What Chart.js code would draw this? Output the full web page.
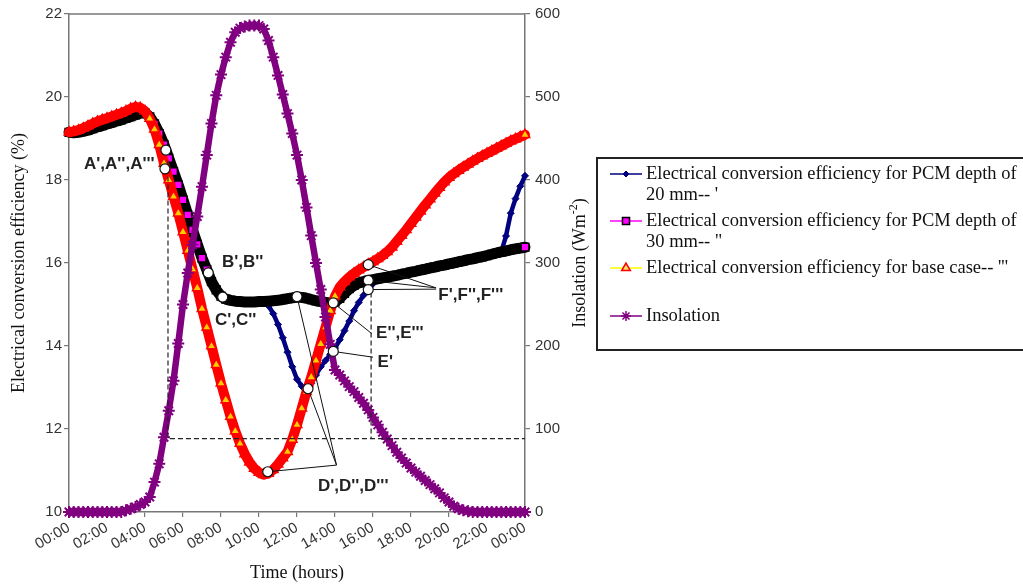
<!DOCTYPE html>
<html>
<head>
<meta charset="utf-8">
<script src="https://cdn.jsdelivr.net/npm/chart.js@4/dist/chart.umd.min.js"></script>
<style>
html,body{margin:0;padding:0;background:#fff;}
#wrap{position:relative;width:1023px;height:586px;}
</style>
</head>
<body>
<div id="wrap"><canvas id="c" width="1023" height="586"></canvas></div>
<script>
// ---------- DATA (15-minute steps, 00:00 .. 24:00) ----------
const hours = Array.from({length: 97}, (_, i) => i * 0.25);
const xTickLabels = ['00:00','02:00','04:00','06:00','08:00','10:00','12:00','14:00','16:00','18:00','20:00','22:00','00:00'];

const seriesLabels = [
  "Electrical conversion efficiency for PCM depth of 20 mm-- '",
  'Electrical conversion efficiency for PCM depth of 30 mm-- "',
  "Electrical conversion efficiency for base case-- '''",
  "Insolation"
];

// PCM depth 20 mm (%)
const eff20mm = [
  19.15,19.14,19.15,19.17,19.2,19.24,19.28,19.31,
  19.35,19.38,19.42,19.45,19.49,19.53,19.57,19.61,
  19.62,19.52,19.35,19.12,18.85,18.52,18.2,17.88,
  17.52,17.16,16.8,16.45,16.12,15.84,15.55,15.35,
  15.2,15.13,15.1,15.08,15.07,15.06,15.06,15.06,
  15.07,15.07,14.97,14.78,14.52,14.2,13.85,13.5,
  13.2,13.03,12.98,13.1,13.3,13.5,13.65,13.8,
  13.95,14.15,14.37,14.6,14.85,15.05,15.22,15.37,
  15.5,15.6,15.64,15.66,15.68,15.7,15.73,15.75,
  15.78,15.8,15.83,15.85,15.88,15.9,15.93,15.95,
  15.98,16.0,16.03,16.05,16.08,16.1,16.13,16.15,
  16.18,16.21,16.24,16.27,16.65,17.2,17.55,17.85,
  18.1
];

// PCM depth 30 mm (%)
const eff30mm = [
  19.15,19.14,19.15,19.17,19.2,19.24,19.28,19.31,
  19.35,19.38,19.42,19.45,19.49,19.53,19.57,19.61,
  19.62,19.52,19.35,19.12,18.85,18.52,18.2,17.88,
  17.52,17.16,16.8,16.45,16.12,15.84,15.55,15.35,
  15.2,15.13,15.1,15.08,15.07,15.06,15.06,15.06,
  15.07,15.07,15.08,15.09,15.1,15.12,15.14,15.16,
  15.18,15.17,15.15,15.12,15.09,15.07,15.05,15.03,
  15.06,15.15,15.27,15.38,15.46,15.52,15.55,15.58,
  15.6,15.62,15.64,15.66,15.68,15.7,15.73,15.75,
  15.78,15.8,15.83,15.85,15.88,15.9,15.93,15.95,
  15.98,16.0,16.03,16.05,16.08,16.1,16.13,16.15,
  16.18,16.21,16.24,16.27,16.29,16.32,16.34,16.36,
  16.38
];

// Base case (%)
const effBase = [
  19.15,19.17,19.2,19.25,19.3,19.36,19.41,19.45,
  19.49,19.53,19.57,19.61,19.66,19.72,19.76,19.74,
  19.66,19.48,19.22,18.85,18.4,18.0,17.6,17.2,
  16.75,16.3,15.85,15.4,14.9,14.45,14.0,13.55,
  13.1,12.7,12.3,11.95,11.65,11.4,11.2,11.05,
  10.95,10.9,10.93,11.02,11.15,11.3,11.45,11.75,
  12.1,12.5,12.9,13.25,13.65,14.05,14.45,14.85,
  15.2,15.42,15.55,15.66,15.75,15.83,15.9,15.97,
  16.03,16.1,16.18,16.27,16.38,16.52,16.66,16.8,
  16.95,17.1,17.25,17.4,17.54,17.68,17.82,17.95,
  18.06,18.15,18.23,18.31,18.38,18.45,18.52,18.58,
  18.64,18.7,18.76,18.82,18.88,18.94,18.99,19.04,
  19.09
];

// Insolation (W m-2)
const insolation = [
  0,0,0,0,0,0,0,0,
  0,0,0,0,2,4,6,9,
  12,18,36,58,90,122,158,203,
  250,288,322,356,392,430,468,502,
  527,548,566,578,583,585,586,586,
  586,582,568,548,526,503,480,456,
  430,400,367,333,300,268,235,202,
  171,165,158,151,145,138,131,123,
  114,105,96,88,80,72,65,59,
  53,48,43,38,33,28,23,17,
  12,7,4,2,1,0,0,0,
  0,0,0,0,0,0,0,0,
  0
];

// ---------- ANNOTATIONS (in data units: hours, efficiency %) ----------
const markerCircles = [
  [5.1,18.72],[5.05,18.27],[7.33,15.76],[8.09,15.18],
  [12.0,15.19],[12.58,12.97],[10.46,10.97],
  [13.91,15.04],[13.91,13.87],
  [15.75,15.96],[15.75,15.58],[15.75,15.36]
];
const leaderLines = [
  [[12.0,15.19],[14.08,11.13]],
  [[12.58,12.97],[14.08,11.13]],
  [[10.46,10.97],[14.08,11.13]],
  [[13.91,15.04],[15.93,14.3]],
  [[13.91,13.87],[16.0,13.73]],
  [[15.75,15.96],[19.32,15.4]],
  [[15.75,15.58],[19.32,15.4]],
  [[15.75,15.36],[19.32,15.37]]
];
const dashedGuides = [
  [[5.21,18.47],[5.21,11.77],[24,11.77]],
  [[15.9,15.29],[15.9,11.77]]
];
const pointLabels = [
  {text:"A',A'',A'''", t:0.79, v:18.39},
  {text:"B',B''", t:8.05, v:16.01},
  {text:"C',C''", t:7.68, v:14.62},
  {text:"D',D'',D'''", t:13.1, v:10.63},
  {text:"E'',E'''", t:16.16, v:14.3},
  {text:"E'", t:16.24, v:13.61},
  {text:"F',F'',F'''", t:19.44, v:15.22}
];

// ---------- helpers ----------
const pts = arr => hours.map((h, i) => ({x: h, y: arr[i]}));
// dense markers merge into their border colour; sparse ones show their fill
function denseFill(fill, edge) {
  return ctx => {
    if (ctx.type !== 'data') return fill;
    const chart = ctx.chart, ds = chart.data.datasets[ctx.datasetIndex];
    const i = ctx.dataIndex, d = ds.data;
    if (i >= d.length - 1) return fill;
    const xs = chart.scales.x, ys = chart.scales[ds.yAxisID || 'y'];
    if (!xs || !ys) return fill;
    const dx = xs.getPixelForValue(d[i+1].x) - xs.getPixelForValue(d[i].x);
    const dy = ys.getPixelForValue(d[i+1].y) - ys.getPixelForValue(d[i].y);
    return Math.hypot(dx, dy) >= 10 ? fill : edge;
  };
}

const SERIF = '"Liberation Serif","Times New Roman",serif';
const SANS = '"Liberation Sans",Arial,sans-serif';

const legendStyle = {
  box: {x: 597, y: 158, w: 440, h: 192},
  rows: [174, 221, 268, 316],
  lineColors: ['#000080', '#ff00ff', '#ffff00', '#800080'],
  markers: [
    {pointStyle:'rectRot', radius:3, fill:'#000080', stroke:'#000080', bw:1},
    {pointStyle:'rect', radius:5, fill:'#ff00ff', stroke:'#000000', bw:1.5},
    {pointStyle:'triangle', radius:5, fill:'#ffe066', stroke:'#ff0000', bw:1.5},
    {pointStyle:'star', radius:5, fill:'#800080', stroke:'#800080', bw:1.5}
  ]
};

function wrapText(ctx, text, maxW) {
  const words = text.split(' ');
  const lines = [];
  let cur = '';
  words.forEach(w => {
    const test = cur ? cur + ' ' + w : w;
    if (ctx.measureText(test).width > maxW && cur) { lines.push(cur); cur = w; }
    else cur = test;
  });
  if (cur) lines.push(cur);
  return lines;
}

const annotationPlugin = {
  id: 'annotations',
  afterDatasetsDraw(chart) {
    const {ctx} = chart;
    const xs = chart.scales.x, ys = chart.scales.y;
    const P = p => [xs.getPixelForValue(p[0]), ys.getPixelForValue(p[1])];
    ctx.save();
    ctx.setLineDash([5, 3]);
    ctx.lineWidth = 1.2;
    ctx.strokeStyle = '#222';
    dashedGuides.forEach(path => {
      ctx.beginPath();
      path.forEach((p, k) => { const [px, py] = P(p); k ? ctx.lineTo(px, py) : ctx.moveTo(px, py); });
      ctx.stroke();
    });
    ctx.setLineDash([]);
    ctx.lineWidth = 1;
    ctx.strokeStyle = '#111';
    leaderLines.forEach(seg => {
      const a = P(seg[0]), b = P(seg[1]);
      ctx.beginPath(); ctx.moveTo(a[0], a[1]); ctx.lineTo(b[0], b[1]); ctx.stroke();
    });
    markerCircles.forEach(c => {
      const [px, py] = P(c);
      ctx.beginPath(); ctx.arc(px, py, 5, 0, Math.PI * 2);
      ctx.fillStyle = '#fff'; ctx.fill();
      ctx.lineWidth = 1.2; ctx.strokeStyle = '#111'; ctx.stroke();
    });
    ctx.font = 'bold 17px ' + SANS;
    ctx.fillStyle = '#222';
    ctx.textAlign = 'left';
    ctx.textBaseline = 'middle';
    pointLabels.forEach(l => { const [px, py] = P([l.t, l.v]); ctx.fillText(l.text, px, py); });
    ctx.restore();
  }
};

const framePlugin = {
  id: 'frame',
  afterDraw(chart) {
    const {ctx, chartArea: a} = chart;
    ctx.save();
    // top border of plot area
    ctx.strokeStyle = '#777';
    ctx.lineWidth = 1.5;
    ctx.beginPath(); ctx.moveTo(a.left, a.top); ctx.lineTo(a.right, a.top); ctx.stroke();

    // right axis title with superscript, reading bottom-to-top
    const y1 = chart.scales.y1;
    ctx.translate(y1.left + 55, (a.top + a.bottom) / 2);
    ctx.rotate(-Math.PI / 2);
    ctx.fillStyle = '#111';
    ctx.textBaseline = 'middle';
    ctx.textAlign = 'left';
    const mainFont = '18px ' + SERIF, supFont = '12px ' + SERIF;
    const p1 = 'Insolation (Wm', p2 = '-2', p3 = ')';
    ctx.font = mainFont; const w1 = ctx.measureText(p1).width, w3 = ctx.measureText(p3).width;
    ctx.font = supFont; const w2 = ctx.measureText(p2).width;
    let x0 = -(w1 + w2 + w3) / 2;
    ctx.font = mainFont; ctx.fillText(p1, x0, 0);
    ctx.font = supFont; ctx.fillText(p2, x0 + w1, -6);
    ctx.font = mainFont; ctx.fillText(p3, x0 + w1 + w2, 0);
    ctx.restore();

    // legend
    const L = legendStyle;
    ctx.save();
    ctx.lineWidth = 2;
    ctx.strokeStyle = '#222';
    ctx.strokeRect(L.box.x, L.box.y, L.box.w, L.box.h);
    ctx.font = '18.5px ' + SERIF;
    ctx.textBaseline = 'middle';
    ctx.textAlign = 'left';
    chart.data.datasets.forEach((ds, i) => {
      const y = L.rows[i];
      ctx.strokeStyle = L.lineColors[i];
      ctx.lineWidth = 1.5;
      ctx.beginPath(); ctx.moveTo(610, y); ctx.lineTo(642, y); ctx.stroke();
      const m = L.markers[i];
      ctx.fillStyle = m.fill; ctx.strokeStyle = m.stroke; ctx.lineWidth = m.bw;
      Chart.helpers.drawPoint(ctx, {pointStyle: m.pointStyle, radius: m.radius, borderWidth: m.bw, rotation: 0}, 626, y);
      ctx.fillStyle = '#111';
      wrapText(ctx, ds.label, 380).forEach((ln, k) => ctx.fillText(ln, 646, y + k * 21));
    });
    ctx.restore();
  }
};

const tickFont = {family: SANS, size: 15};

new Chart(document.getElementById('c'), {
  type: 'line',
  data: {
    datasets: [
      {
        label: seriesLabels[0], data: pts(eff20mm), yAxisID: 'y', order: 3,
        borderColor: '#000080', borderWidth: 4.5, borderJoinStyle: 'round', borderCapStyle: 'round',
        pointStyle: 'rectRot', pointRadius: 3.5, pointBackgroundColor: '#000080',
        pointBorderColor: '#000080', pointBorderWidth: 1, clip: 8
      },
      {
        label: seriesLabels[1], data: pts(eff30mm), yAxisID: 'y', order: 2,
        borderColor: '#000000', borderWidth: 11, borderJoinStyle: 'round', borderCapStyle: 'round',
        pointStyle: 'rect', pointRadius: 5.5, pointBackgroundColor: denseFill('#ff00ff', '#000000'),
        pointBorderColor: '#000000', pointBorderWidth: 1.5, clip: 8
      },
      {
        label: seriesLabels[2], data: pts(effBase), yAxisID: 'y', order: 1,
        borderColor: '#ff0000', borderWidth: 10, borderJoinStyle: 'round', borderCapStyle: 'round',
        pointStyle: 'triangle', pointRadius: 5.5, pointBackgroundColor: denseFill('#ffcc00', '#ff0000'),
        pointBorderColor: '#ff0000', pointBorderWidth: 1.5, clip: 8
      },
      {
        label: seriesLabels[3], data: pts(insolation), yAxisID: 'y1', order: 0,
        borderColor: '#800080', borderWidth: 6.5, borderJoinStyle: 'round', borderCapStyle: 'round',
        pointStyle: 'star', pointRadius: 6, pointBackgroundColor: '#800080',
        pointBorderColor: '#800080', pointBorderWidth: 2, clip: 8
      }
    ]
  },
  options: {
    responsive: false,
    animation: false,
    events: [],
    layout: {padding: {top: 13, left: 0, right: 0, bottom: 0}},
    plugins: {legend: {display: false}, tooltip: {enabled: false}},
    scales: {
      x: {
        type: 'linear', position: 'bottom', min: 0, max: 24,
        ticks: {
          stepSize: 2, autoSkip: false, maxRotation: 30, minRotation: 30,
          color: '#333', font: tickFont, padding: 2,
          callback: (v, i) => xTickLabels[i]
        },
        grid: {drawOnChartArea: false, drawTicks: true, tickLength: 5, color: '#777', lineWidth: 1.2},
        border: {display: true, color: '#777', width: 1.5},
        title: {display: true, text: 'Time (hours)', color: '#111', font: {family: SERIF, size: 18}, padding: {top: 0, bottom: 2}},
        afterFit: s => { s.height = 74; }
      },
      y: {
        type: 'linear', position: 'left', min: 10, max: 22,
        ticks: {stepSize: 2, color: '#333', font: tickFont, padding: 2},
        grid: {drawOnChartArea: false, drawTicks: true, tickLength: 5, color: '#777', lineWidth: 1.2},
        border: {display: true, color: '#777', width: 1.5},
        title: {display: true, text: 'Electrical conversion efficiency (%)', color: '#111', font: {family: SERIF, size: 18}, padding: {top: 8, bottom: 0}},
        afterFit: s => { s.width = 69; }
      },
      y1: {
        type: 'linear', position: 'right', min: 0, max: 600,
        ticks: {stepSize: 100, color: '#333', font: tickFont, padding: 5},
        grid: {drawOnChartArea: false, drawTicks: true, tickLength: 5, color: '#777', lineWidth: 1.2},
        border: {display: true, color: '#777', width: 1.5},
        afterFit: s => { s.width = 498; }
      }
    }
  },
  plugins: [annotationPlugin, framePlugin]
});
</script>
</body>
</html>
